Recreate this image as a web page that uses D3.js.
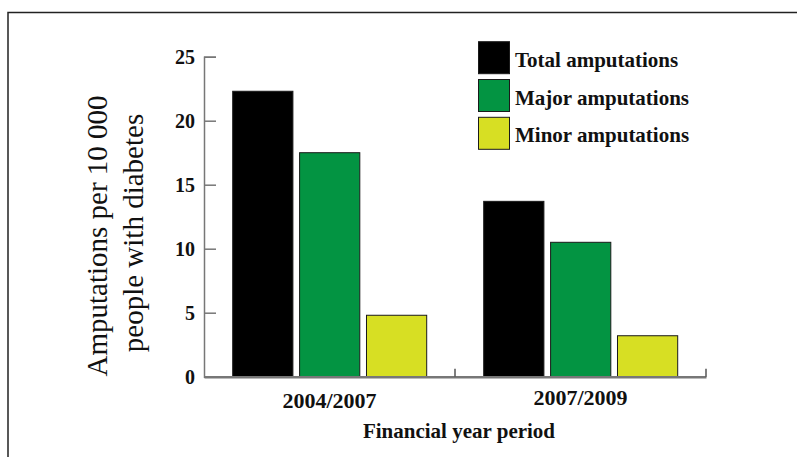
<!DOCTYPE html>
<html><head><meta charset="utf-8">
<script src="https://cdn.jsdelivr.net/npm/d3@7"></script>
<style>
html,body{margin:0;padding:0;background:#fff;}
svg{display:block;}
text{font-family:"Liberation Serif","Times New Roman",serif;}
</style></head>
<body>
<svg id="chart" width="797" height="457"></svg>
<script>
const periods = ["2004/2007", "2007/2009"];
const seriesNames = ["Total amputations", "Major amputations", "Minor amputations"];
const totalValues = [22.3, 13.7];
const majorValues = [17.5, 10.5];
const minorValues = [4.8, 3.2];
const yTicks = [0, 5, 10, 15, 20, 25];
const colors = ["#000000", "#039442", "#d7df23"];

const allSeries = [totalValues, majorValues, minorValues];
const svg = d3.select("#chart");

// frame
svg.append("path").attr("d", "M8,460 L8,12.5 L800,12.5")
  .attr("fill", "none").attr("stroke", "#222").attr("stroke-width", 1.5);

const x0 = d3.scaleBand().domain(periods).range([204, 706]);
const x1 = d3.scaleBand().domain(seriesNames).range([28.7, 222.7]).paddingInner(0.1);
const y = d3.scaleLinear().domain([0, 25]).range([376.7, 56.7]);

// bars
const g = svg.append("g");
periods.forEach((p, i) => {
  seriesNames.forEach((s, j) => {
    const v = allSeries[j][i];
    g.append("rect")
      .attr("x", x0(p) + x1(s))
      .attr("y", y(v))
      .attr("width", x1.bandwidth())
      .attr("height", y(0) - y(v))
      .attr("fill", colors[j])
      .attr("stroke", "#1a1a1a")
      .attr("stroke-width", 1);
  });
});

// y axis
const yAxis = svg.append("g").attr("transform", "translate(204,0)")
  .call(d3.axisRight(y).tickValues(yTicks).tickSize(12).tickFormat(""));
yAxis.select(".domain").attr("stroke", "#777").attr("stroke-width", 1.5);
yAxis.selectAll(".tick line").attr("stroke", "#777").attr("stroke-width", 1.5);
svg.append("g").selectAll("text").data(yTicks).join("text")
  .attr("x", 195).attr("y", d => y(d)).attr("dy", "0.34em")
  .attr("text-anchor", "end").attr("font-size", 20).attr("font-weight", "bold")
  .attr("fill", "#111").text(d => d);

// x axis
const xAxis = svg.append("g").attr("transform", `translate(0,${y(0)})`)
  .call(d3.axisTop(x0).tickSize(0).tickFormat(""));
xAxis.select(".domain").attr("stroke", "#777").attr("stroke-width", 2.5);
xAxis.selectAll(".tick").remove();
const sepTicks = [x0.range()[0] + x0.step(), x0.range()[1]];
svg.append("g").selectAll("line").data(sepTicks).join("line")
  .attr("x1", d => d).attr("x2", d => d)
  .attr("y1", y(0)).attr("y2", y(0) - 8)
  .attr("stroke", "#555").attr("stroke-width", 1.5);

svg.append("g").selectAll("text").data(periods).join("text")
  .attr("x", d => x0(d) + x0.bandwidth() / 2)
  .attr("y", (d, i) => i === 0 ? 408 : 405)
  .attr("text-anchor", "middle").attr("font-size", 22).attr("font-weight", "bold")
  .attr("fill", "#111").text(d => d);

svg.append("text").attr("x", 459).attr("y", 438)
  .attr("text-anchor", "middle").attr("font-size", 21).attr("font-weight", "bold")
  .attr("fill", "#111").text("Financial year period");

// y label
const yl = svg.append("text").attr("transform", "translate(0,236) rotate(-90)")
  .attr("text-anchor", "middle").attr("font-size", 29).attr("fill", "#111");
yl.append("tspan").attr("x", 0).attr("y", 107).text("Amputations per 10 000");
yl.append("tspan").attr("x", 3).attr("y", 143).text("people with diabetes");

// legend
const leg = svg.append("g");
seriesNames.forEach((s, j) => {
  const top = 41.7 + j * 37.8;
  leg.append("rect").attr("x", 478.5).attr("y", top).attr("width", 31).attr("height", 32)
    .attr("fill", colors[j]).attr("stroke", "#1a1a1a").attr("stroke-width", 1);
  leg.append("text").attr("x", 515).attr("y", top + 25)
    .attr("font-size", 21).attr("font-weight", "bold").attr("fill", "#111").text(s);
});
</script>
</body></html>
